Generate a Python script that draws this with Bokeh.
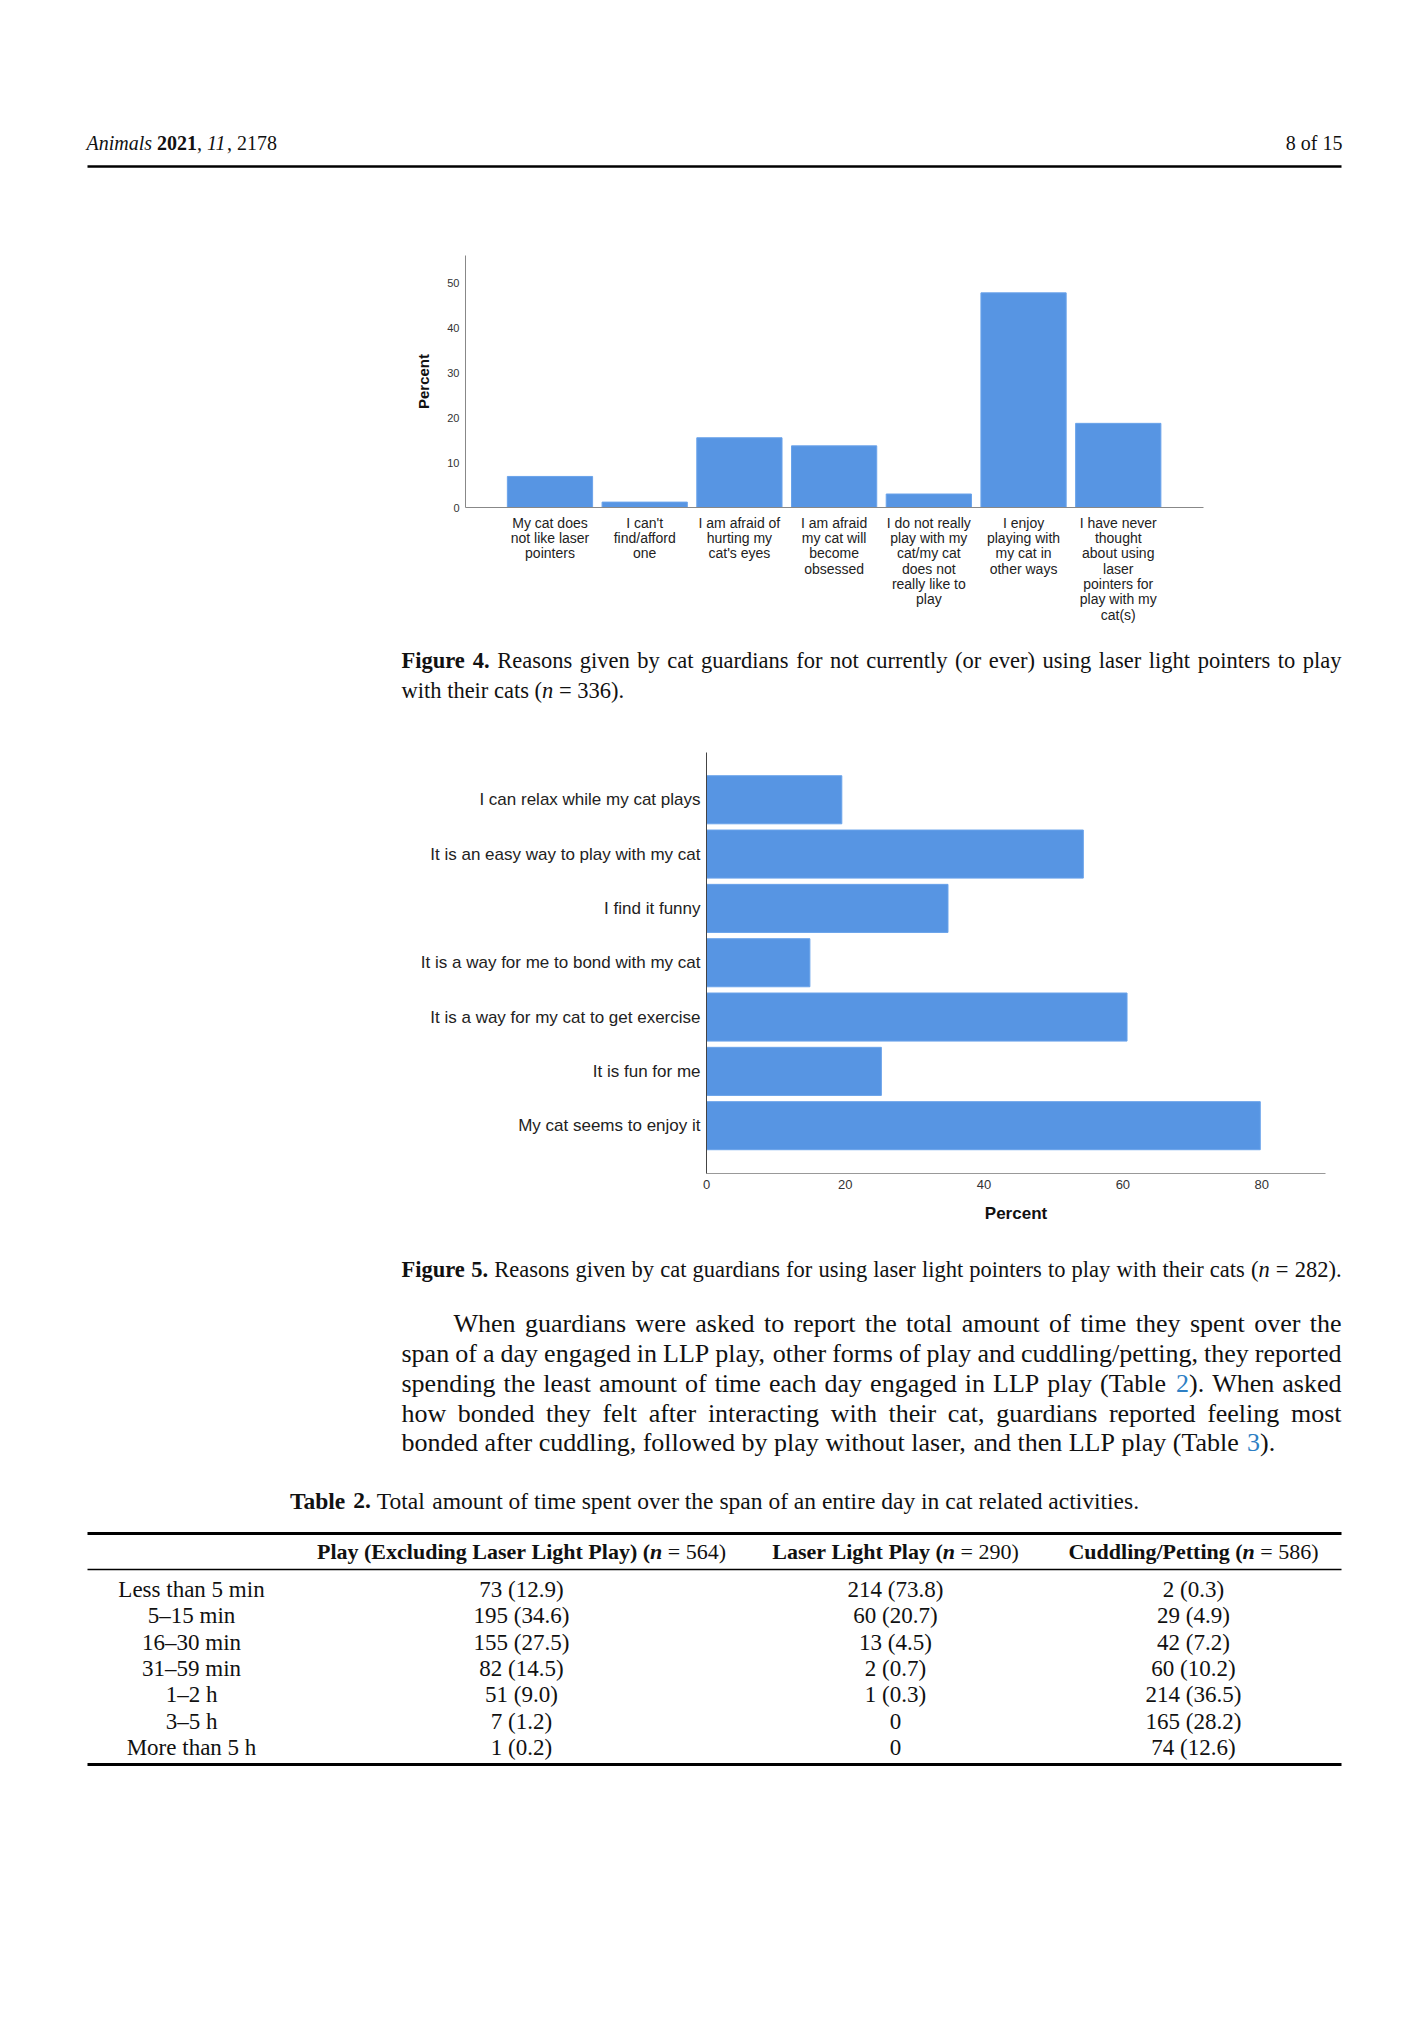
import re
from bokeh.plotting import figure
from bokeh.models import Range1d, FixedTicker, ColumnDataSource
from bokeh.layouts import column
from bokeh.core.properties import value, field
from bokeh.embed import file_html
from bokeh.resources import INLINE

# ---------------- data ----------------
fig4_reasons = [
    "My cat does\nnot like laser\npointers",
    "I can't\nfind/afford\none",
    "I am afraid of\nhurting my\ncat's eyes",
    "I am afraid\nmy cat will\nbecome\nobsessed",
    "I do not really\nplay with my\ncat/my cat\ndoes not\nreally like to\nplay",
    "I enjoy\nplaying with\nmy cat in\nother ways",
    "I have never\nthought\nabout using\nlaser\npointers for\nplay with my\ncat(s)",
]
fig4_percent = [6.9, 1.2, 15.5, 13.7, 3.0, 47.7, 18.7]
fig4_ticks = [0, 10, 20, 30, 40, 50]

fig5_reasons = [
    "I can relax while my cat plays",
    "It is an easy way to play with my cat",
    "I find it funny",
    "It is a way for me to bond with my cat",
    "It is a way for my cat to get exercise",
    "It is fun for me",
    "My cat seems to enjoy it",
]
fig5_percent = [19.5, 54.3, 34.8, 14.9, 60.6, 25.2, 79.8]
fig5_ticks = [0, 20, 40, 60, 80]

table_headers = ["^Play^ ^(Excluding^ ^Laser^ ^Light^ ^Play)^ ^(^%n%^ = 564)^",
                 "^Laser^ ^Light^ ^Play^ ^(^%n%^ = 290)^",
                 "^Cuddling/Petting^ ^(^%n%^ = 586)^"]
table_times = ["Less than 5 min", "5–15 min", "16–30 min", "31–59 min", "1–2 h", "3–5 h", "More than 5 h"]
play_counts = ["73 (12.9)", "195 (34.6)", "155 (27.5)", "82 (14.5)", "51 (9.0)", "7 (1.2)", "1 (0.2)"]
laser_counts = ["214 (73.8)", "60 (20.7)", "13 (4.5)", "2 (0.7)", "1 (0.3)", "0", "0"]
cuddle_counts = ["2 (0.3)", "29 (4.9)", "42 (7.2)", "60 (10.2)", "214 (36.5)", "165 (28.2)", "74 (12.6)"]

caption4 = ["^Figure^ ^4.^ Reasons given by cat guardians for not currently (or ever) using laser light pointers to play",
            "with their cats (_n_ = 336)."]
caption5 = "^Figure^ ^5.^ Reasons given by cat guardians for using laser light pointers to play with their cats (_n_ = 282)."
paragraph = [
    "When guardians were asked to report the total amount of time they spent over the",
    "span of a day engaged in LLP play, other forms of play and cuddling/petting, they reported",
    "spending the least amount of time each day engaged in LLP play (Table {2}). When asked",
    "how bonded they felt after interacting with their cat, guardians reported feeling most",
    "bonded after cuddling, followed by play without laser, and then LLP play (Table {3}).",
]
table_caption = "^Table^ ^2.^ Total amount of time spent over the span of an entire day in cat related activities."

# ---------------- styles ----------------
W = 1428
SERIF = "Liberation Serif"
SANS = "Liberation Sans"
INK = "#111111"
LINK = "#2e7fc4"
BAR = "#5795e3"

LOW = "abcdefghijklmnopqrstuvwxyz"
UPP = "ABCDEFGHIJKLMNOPQRSTUVWXYZ"
WID = {
    "normal": (
        [444, 500, 444, 500, 444, 333, 500, 500, 278, 278, 500, 278, 778, 500, 500, 500, 500, 333, 389, 278, 500, 500, 722, 500, 500, 444],
        [722, 667, 667, 722, 611, 556, 722, 722, 333, 389, 722, 611, 889, 722, 722, 556, 722, 667, 556, 611, 722, 722, 944, 722, 722, 611]),
    "bold": (
        [500, 556, 444, 556, 444, 333, 500, 556, 278, 333, 556, 278, 833, 556, 500, 556, 556, 444, 389, 333, 556, 500, 722, 500, 500, 444],
        [722, 667, 722, 722, 667, 611, 778, 778, 389, 500, 778, 667, 944, 722, 778, 611, 778, 722, 556, 667, 722, 722, 1000, 722, 722, 667]),
    "italic": (
        [500, 500, 444, 500, 444, 278, 500, 500, 278, 278, 444, 278, 722, 500, 500, 500, 500, 389, 389, 278, 500, 444, 667, 444, 444, 389],
        [611, 611, 667, 722, 611, 611, 722, 722, 333, 444, 667, 556, 833, 667, 722, 611, 722, 611, 500, 556, 722, 611, 833, 611, 556, 556]),
}
WID["bold italic"] = WID["bold"]
PUN = {" ": 250, ",": 250, ".": 250, "(": 333, ")": 333, "/": 278, "=": 564, "-": 333,
       "–": 500, "'": 180}


def cw(ch, style):
    lo, up = WID[style]
    if ch in LOW:
        return lo[LOW.index(ch)]
    if ch in UPP:
        return up[UPP.index(ch)]
    if ch.isdigit():
        return 500
    return PUN.get(ch, 500)


def tw(s, style, size):
    return sum(cw(c, style) for c in s) * size / 1000.0


def parse_word(word):
    segs = []
    for tok in re.findall(r"\^[^^]*\^|%[^%]*%|_[^_]+_|\{[^}]+\}|[^\^_{%]+", word):
        if tok.startswith("^"):
            segs.append((tok[1:-1], "bold", INK))
        elif tok.startswith("%"):
            segs.append((tok[1:-1], "bold italic", INK))
        elif tok.startswith("_"):
            segs.append((tok[1:-1], "italic", INK))
        elif tok.startswith("{"):
            segs.append((tok[1:-1], "normal", LINK))
        else:
            segs.append((tok, "normal", INK))
    return [s for s in segs if s[0]]


class Page:
    def __init__(self, top, height):
        self.top = top
        self.p = figure(width=W, height=height, x_range=Range1d(0, W), y_range=Range1d(height, 0),
                        output_backend="svg", toolbar_location=None, min_border=0,
                        outline_line_color=None, x_axis_location=None, y_axis_location=None,
                        frame_align=False)
        self.p.grid.visible = False
        self.d = dict(x=[], y=[], t=[], font=[], style=[], size=[], color=[], align=[])

    def text(self, x, y, t, size, style="normal", color=INK, align="left", font=SERIF):
        d = self.d
        d["x"].append(x); d["y"].append(y - self.top); d["t"].append(t)
        d["font"].append(font); d["style"].append(style); d["size"].append(f"{size}px")
        d["color"].append(color); d["align"].append(align)

    def rule(self, x0, x1, y, w):
        self.p.segment(x0=[x0], y0=[y - self.top], x1=[x1], y1=[y - self.top],
                       line_color="black", line_width=w)

    def line(self, s, x0, x1, y, size, justify=True):
        words = [parse_word(w) for w in s.split(" ")]
        widths = [sum(tw(t, st, size) for t, st, c in w) for w in words]
        if justify and len(words) > 1:
            gap = (x1 - x0 - sum(widths)) / (len(words) - 1)
        else:
            gap = 0.25 * size
        x = x0
        for w, wd in zip(words, widths):
            xx = x
            for t, st, c in w:
                self.text(xx, y, t, size, st, c)
                xx += tw(t, st, size)
            x += wd + gap

    def centered(self, s, cx, y, size):
        words = [parse_word(w) for w in s.split(" ")]
        widths = [sum(tw(t, st, size) for t, st, c in w) for w in words]
        gap = 0.25 * size
        total = sum(widths) + gap * (len(words) - 1)
        self.line(s, cx - total / 2, cx + total / 2, y, size, justify=False)

    def finish(self):
        self.p.text(x="x", y="y", text="t", source=ColumnDataSource(self.d),
                    text_font=field("font"), text_font_style=field("style"),
                    text_font_size=field("size"), text_color=field("color"),
                    text_align=field("align"), text_baseline=value("middle"))
        return self.p


# ---------------- block 1: running header ----------------
hdr = Page(0, 230)
x = 86
for t, st in [("Animals", "italic"), (" ", "normal"), ("2021", "bold"), (", ", "normal"),
              ("11", "italic"), (", ", "normal"), ("2178", "normal")]:
    hdr.text(x, 142, t, 20, st)
    x += tw(t, st, 20)
hdr.text(1342, 142, "8 of 15", 20, align="right")
hdr.rule(87, 1341, 166, 2.5)
blk1 = hdr.finish()

# ---------------- block 2: Figure 4 ----------------
p4 = figure(width=W, height=410, x_range=Range1d(-0.892, 6.9), y_range=Range1d(0, 56),
            output_backend="svg", toolbar_location=None, outline_line_color=None,
            min_border_left=465, min_border_right=225, min_border_top=25, min_border_bottom=133,
            frame_align=False)
p4.vbar(x=list(range(len(fig4_percent))), top=fig4_percent, width=0.9, bottom=0,
        fill_color=BAR, line_color="#6aa3ea", line_width=1)
p4.grid.visible = False
p4.xaxis.ticker = FixedTicker(ticks=list(range(len(fig4_reasons))))
p4.xaxis.major_label_overrides = {i: lab for i, lab in enumerate(fig4_reasons)}
p4.xaxis.major_label_text_font = SANS
p4.xaxis.major_label_text_font_size = "14px"
p4.xaxis.major_label_text_line_height = 0.96
p4.xaxis.major_label_text_color = "#222222"
p4.xaxis.major_label_standoff = 7
p4.yaxis.ticker = FixedTicker(ticks=fig4_ticks)
p4.yaxis.major_label_text_font = SANS
p4.yaxis.major_label_text_font_size = "11px"
p4.yaxis.major_label_text_color = "#333333"
p4.yaxis.major_label_standoff = 6
p4.yaxis.axis_label = "Percent"
p4.yaxis.axis_label_text_font = SANS
p4.yaxis.axis_label_text_font_style = "bold"
p4.yaxis.axis_label_text_font_size = "15px"
p4.yaxis.axis_label_text_color = "#111111"
p4.yaxis.axis_label_standoff = 12
for ax in (p4.xaxis, p4.yaxis):
    ax.axis_line_color = "#888888"
    ax.major_tick_line_color = None
    ax.minor_tick_line_color = None
    ax.major_tick_out = 0
    ax.major_tick_in = 0
    ax.minor_tick_out = 0

# ---------------- block 3: caption 4 ----------------
c4 = Page(640, 90)
c4.line(caption4[0], 401, 1341, 660, 22.5)
c4.line(caption4[1], 401, 1341, 690, 22.5, justify=False)
blk3 = c4.finish()

# ---------------- block 4: Figure 5 ----------------
p5 = figure(width=W, height=510, x_range=Range1d(0, 89.2), y_range=Range1d(6.88, -0.87),
            output_backend="svg", toolbar_location=None, outline_line_color=None,
            min_border_left=706, min_border_right=103, min_border_top=22, min_border_bottom=67,
            frame_align=False)
p5.hbar(y=list(range(len(fig5_percent))), right=fig5_percent, left=0, height=0.885,
        fill_color=BAR, line_color="#6aa3ea", line_width=1)
p5.grid.visible = False
p5.yaxis.ticker = FixedTicker(ticks=list(range(len(fig5_reasons))))
p5.yaxis.major_label_overrides = {i: lab for i, lab in enumerate(fig5_reasons)}
p5.yaxis.major_label_text_font = SANS
p5.yaxis.major_label_text_font_size = "17px"
p5.yaxis.major_label_text_color = "#222222"
p5.yaxis.major_label_standoff = 6
p5.yaxis.axis_line_color = "#444444"
p5.xaxis.ticker = FixedTicker(ticks=fig5_ticks)
p5.xaxis.major_label_text_font = SANS
p5.xaxis.major_label_text_font_size = "13px"
p5.xaxis.major_label_text_color = "#333333"
p5.xaxis.major_label_standoff = 6
p5.xaxis.axis_label = "Percent"
p5.xaxis.axis_label_text_font = SANS
p5.xaxis.axis_label_text_font_style = "bold"
p5.xaxis.axis_label_text_font_size = "17px"
p5.xaxis.axis_label_text_color = "#111111"
p5.xaxis.axis_label_standoff = 12
p5.xaxis.axis_line_color = "#999999"
for ax in (p5.xaxis, p5.yaxis):
    ax.major_tick_line_color = None
    ax.minor_tick_line_color = None
    ax.major_tick_out = 0
    ax.major_tick_in = 0
    ax.minor_tick_out = 0

# ---------------- block 5: caption 5, paragraph, table ----------------
b5 = Page(1240, 788)
b5.line(caption5, 401, 1341, 1269, 22.5)
para_y = [1323, 1353, 1383, 1413, 1442]
for i, (s, y) in enumerate(zip(paragraph, para_y)):
    x0 = 453 if i == 0 else 401
    b5.line(s, x0, 1341, y, 26, justify=(i < len(paragraph) - 1))
b5.centered(table_caption, 714, 1500, 23.5)
b5.rule(87, 1341, 1533, 3)
col_x = [191, 521, 895, 1193]
for cx, h in zip(col_x[1:], table_headers):
    b5.centered(h, cx, 1551, 22)
b5.rule(87, 1341, 1569, 1.3)
row_y0, row_dy = 1589, 26.3
for i, (a, b, c, d) in enumerate(zip(table_times, play_counts, laser_counts, cuddle_counts)):
    y = row_y0 + i * row_dy
    for cx, s in zip(col_x, (a, b, c, d)):
        b5.text(cx, y, s, 23, align="center")
b5.rule(87, 1341, 1764, 3)
blk5 = b5.finish()

layout = column(blk1, p4, blk3, p5, blk5, spacing=0)
open("out.html", "w").write(file_html(layout, INLINE))
